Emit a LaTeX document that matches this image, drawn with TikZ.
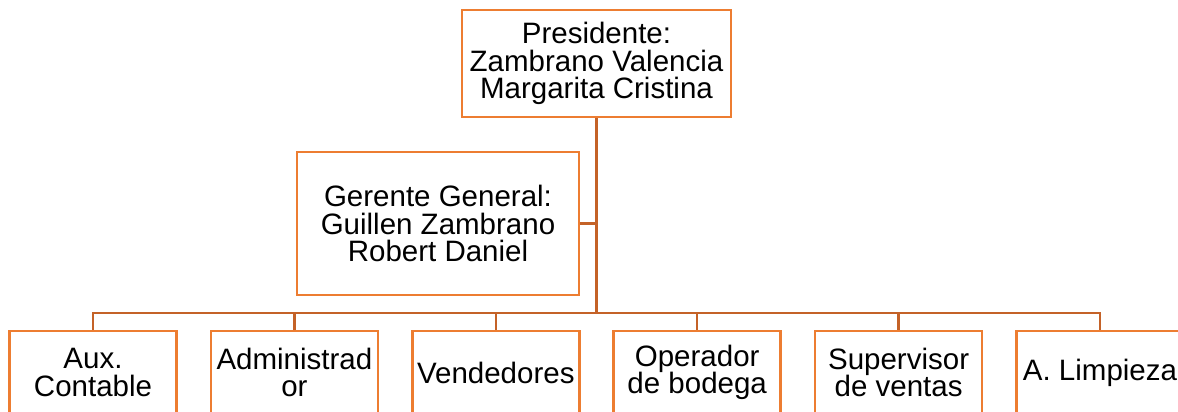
\documentclass[tikz,border=0pt]{standalone}
\usepackage{fontspec}
\setmainfont{Liberation Sans}
\definecolor{boxorange}{RGB}{237,125,49}
\definecolor{lineorange}{RGB}{196,98,40}
\begin{document}
\begin{tikzpicture}[x=1pt,y=-1pt,
  orgbox/.style={draw=boxorange, line width=2.7pt, fill=white, inner sep=0pt, align=center,
    font=\fontsize{29.5}{27.5}\selectfont},
  conn/.style={draw=lineorange, line width=2.3pt}]
\useasboundingbox (0,0) rectangle (1178,412);
\clip (0,0) rectangle (1178,412);
\node[orgbox, minimum width=269pt, minimum height=107pt] (pres) at (596.5,63.5)
  {Presidente:\\Zambrano Valencia\\Margarita Cristina};
\node[orgbox, minimum width=282pt, minimum height=143pt] (ger) at (438,223.5)
  {Gerente General:\\Guillen Zambrano\\Robert Daniel};
\coordinate (bus) at (596.5,313);
\foreach \n/\cx/\t in {b1/93/{Aux.\\Contable}, b2/294.4/{Administrad\\or}, b3/495.8/{Vendedores},
    b4/697.2/{Operador\\de bodega}, b5/898.6/{Supervisor\\de ventas}, b6/1100/{A. Limpieza}}{
  \node[orgbox, minimum width=167pt, minimum height=83pt] (\n) at (\cx,372.5) {\t};
}
\draw[conn] (pres.south) -- (bus);
\draw[conn] (ger.east) -- (ger.east -| pres.south);
\foreach \n in {b1,b2,b3,b4,b5,b6}{
  \draw[conn] (\n.north) |- (bus);
}
\end{tikzpicture}
\end{document}
